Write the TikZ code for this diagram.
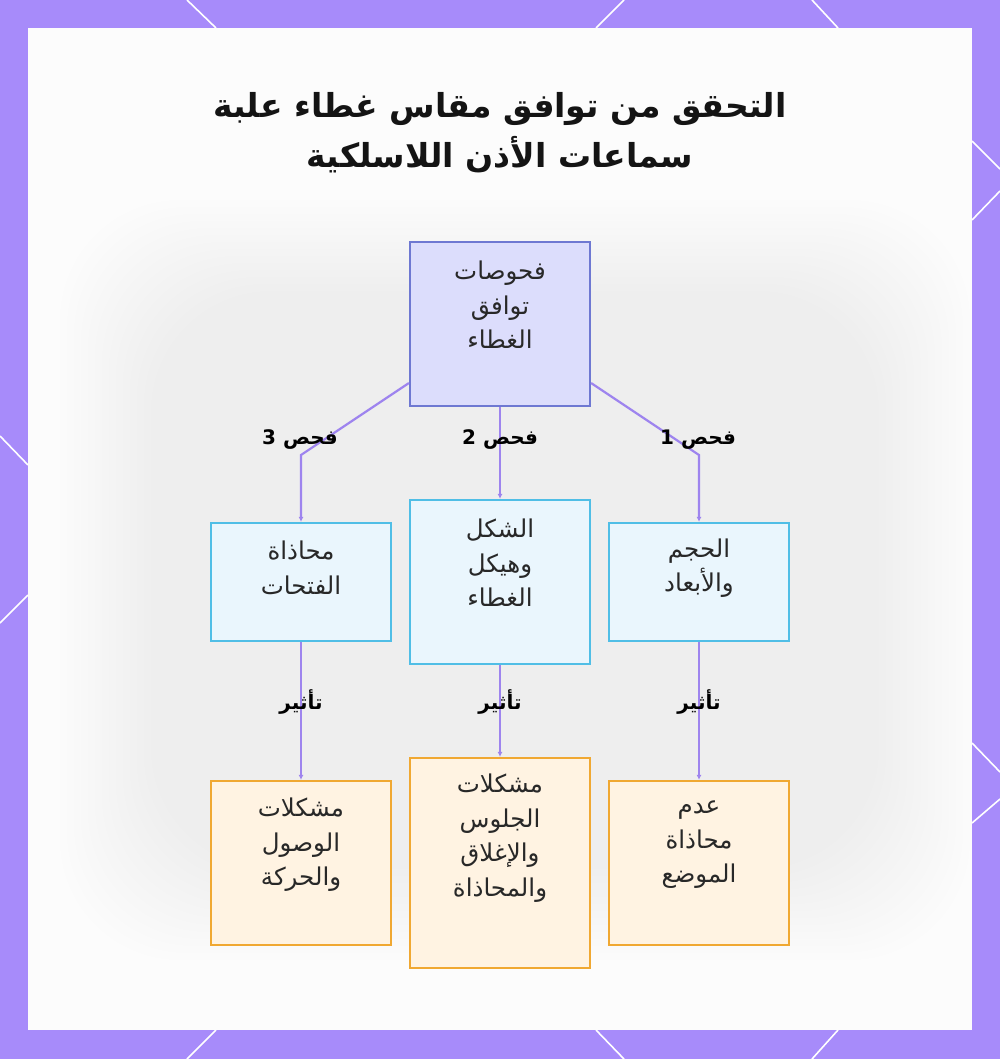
\documentclass[tikz,border=0pt]{standalone}
\usepackage{fontspec}
\usetikzlibrary{arrows.meta}
\TeXXeTstate=1
\newfontfamily\arabicfont[Script=Arabic]{DejaVu Sans}
\definecolor{purp}{RGB}{167,139,250}
\definecolor{conn}{RGB}{158,132,238}
\definecolor{topfill}{RGB}{220,221,252}
\definecolor{topdraw}{RGB}{110,120,210}
\definecolor{midfill}{RGB}{234,246,253}
\definecolor{middraw}{RGB}{80,190,230}
\definecolor{botfill}{RGB}{255,243,226}
\definecolor{botdraw}{RGB}{240,168,50}
\definecolor{txt}{RGB}{40,40,40}
\definecolor{ttl}{RGB}{20,20,20}
\tikzset{
  boxbase/.style={rectangle, line width=2.2pt, minimum width=180pt, inner sep=0pt},
  topbox/.style={boxbase, fill=topfill, draw=topdraw},
  midbox/.style={boxbase, fill=midfill, draw=middraw},
  botbox/.style={boxbase, fill=botfill, draw=botdraw},
  boxtext/.style={text=txt, align=center, font=\arabicfont\fontsize{24.5}{34.5}\selectfont, inner sep=0pt},
  edgelabel/.style={text=black, font=\arabicfont\bfseries\fontsize{20}{24}\selectfont, inner sep=0pt},
  conline/.style={draw=conn, line width=2.2pt, -{Latex[length=5pt,width=5pt]}},
  deco/.style={draw=white, line width=1.6pt}
}
\begin{document}
\begin{tikzpicture}[x=1pt,y=-1pt]
\useasboundingbox (0,0) rectangle (1000,1059);
\fill[purp] (0,0) rectangle (1000,1059);
% decorative border lines
\draw[deco] (187,0) -- (216,28);
\draw[deco] (624,0) -- (596,28);
\draw[deco] (812,0) -- (838,28);
\draw[deco] (216,1030) -- (187,1059);
\draw[deco] (596,1030) -- (624,1059);
\draw[deco] (838,1030) -- (812,1059);
\draw[deco] (0,436) -- (28,465);
\draw[deco] (28,595) -- (0,623);
\draw[deco] (972,141) -- (1000,169);
\draw[deco] (972,220) -- (1000,191);
\draw[deco] (972,743) -- (1000,772);
\draw[deco] (972,823) -- (1000,799);
% panel
\fill[white!99!black] (28,28) rectangle (972,1030);
\foreach \i in {0,...,13}{
  \fill[black, opacity=0.0045, rounded corners=120pt] (60+\i*7,200+\i*7) rectangle (970-\i*7,960-\i*7);
}
% title
\node[text=ttl, align=center, font=\arabicfont\bfseries\fontsize{33}{50}\selectfont, inner sep=0pt] (title) at (500,133)
  {\beginR التحقق من توافق مقاس غطاء علبة\endR\\\beginR سماعات الأذن اللاسلكية\endR};
% boxes
\node[topbox, minimum height=164pt] (top) at (500,324) {};
\node[midbox, minimum height=118pt] (m3) at (301,582) {};
\node[midbox, minimum height=164pt] (m2) at (500,582) {};
\node[midbox, minimum height=118pt] (m1) at (699,582) {};
\node[botbox, minimum height=164pt] (b3) at (301,863) {};
\node[botbox, minimum height=210pt] (b2) at (500,863) {};
\node[botbox, minimum height=164pt] (b1) at (699,863) {};
% box texts
\node[boxtext] (ttop) at (500,305) {\beginR فحوصات\endR\\\beginR توافق\endR\\\beginR الغطاء\endR};
\node[boxtext] (tm3) at (301,568) {\beginR محاذاة\endR\\\beginR الفتحات\endR};
\node[boxtext] (tm2) at (500,563) {\beginR الشكل\endR\\\beginR وهيكل\endR\\\beginR الغطاء\endR};
\node[boxtext] (tm1) at (699,568) {\beginR الحجم\endR\\\beginR والأبعاد\endR};
\node[boxtext] (tb3) at (301,845) {\beginR مشكلات\endR\\\beginR الوصول\endR\\\beginR والحركة\endR};
\node[boxtext] (tb2) at (500,838) {\beginR مشكلات\endR\\\beginR الجلوس\endR\\\beginR والإغلاق\endR\\\beginR والمحاذاة\endR};
\node[boxtext] (tb1) at (699,845) {\beginR عدم\endR\\\beginR محاذاة\endR\\\beginR الموضع\endR};
% connectors
\coordinate (k3) at (301,455);
\coordinate (k1) at (699,455);
\draw[conline] (top.south west |- 0,383) -- (k3) -- (m3.north);
\draw[conline] (top.south) -- (m2.north);
\draw[conline] (top.south east |- 0,383) -- (k1) -- (m1.north);
\draw[conline] (m3.south) -- (b3.north);
\draw[conline] (m2.south) -- (b2.north);
\draw[conline] (m1.south) -- (b1.north);
% labels
\node[edgelabel] (l3) at (300,440) {\beginR فحص \beginL 3\endL\endR};
\node[edgelabel] (l2) at (500,440) {\beginR فحص \beginL 2\endL\endR};
\node[edgelabel] (l1) at (698,440) {\beginR فحص \beginL 1\endL\endR};
\node[edgelabel] (e3) at (301,702) {\beginR تأثير\endR};
\node[edgelabel] (e2) at (500,702) {\beginR تأثير\endR};
\node[edgelabel] (e1) at (699,702) {\beginR تأثير\endR};
\end{tikzpicture}
\end{document}
